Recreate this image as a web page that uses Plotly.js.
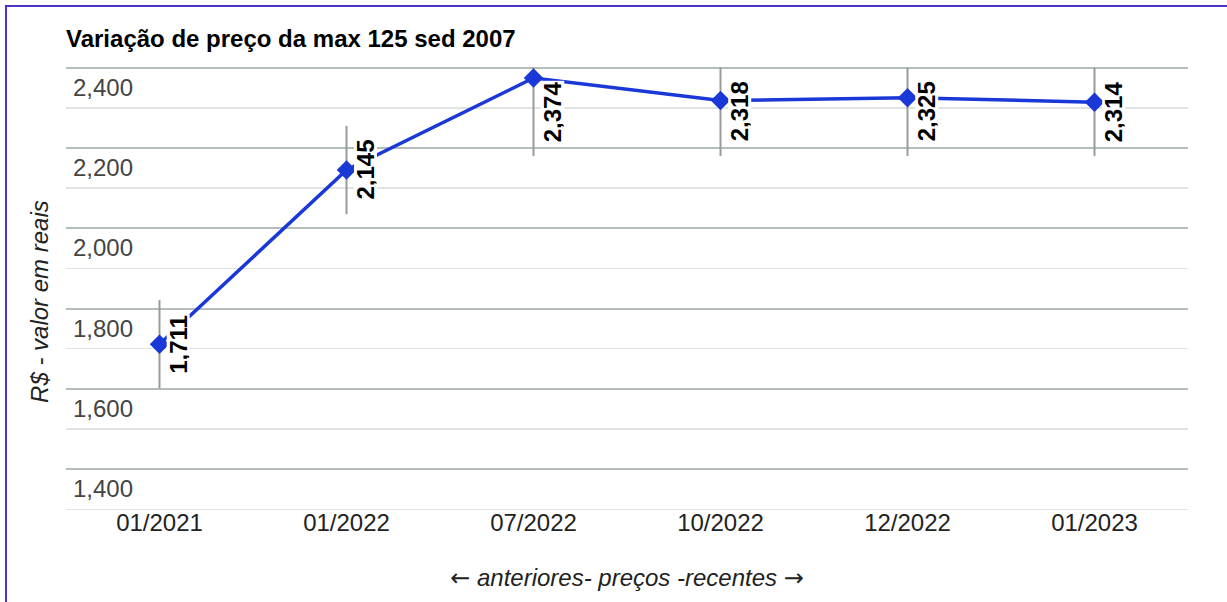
<!DOCTYPE html>
<html>
<head>
<meta charset="utf-8">
<script src="https://cdn.plot.ly/plotly-3.0.1.min.js"></script>
<style>
  html, body { margin: 0; padding: 0; background: #fff; overflow: hidden; }
  #wrap { position: relative; width: 1227px; height: 602px; }
  #chart { width: 1227px; height: 602px; }
  #frame { position: absolute; left: 5px; top: 5px; width: 1400px; height: 800px;
           border: 2px solid #4b33d2; pointer-events: none; box-sizing: border-box; }
</style>
</head>
<body>
<div id="wrap">
  <div id="chart"></div>
  <div id="frame"></div>
</div>
<script>
const categories = ["01/2021", "01/2022", "07/2022", "10/2022", "12/2022", "01/2023"];
const prices = [1711, 2145, 2374, 2318, 2325, 2314];
const yTickValues = [1400, 1600, 1800, 2000, 2200, 2400];
const yMinorValues = [1300, 1500, 1700, 1900, 2100, 2300];

const yMin = 1296, yMax = 2404;   // axis range (padded so edge gridlines show)
const clampTop = 2400;            // chart area top value
const stemHalf = 110;             // stem half-length in data units

const stemTop = prices.map(v => Math.min(v + stemHalf, clampTop));
const stemBottom = stemTop.map(t => t - 2 * stemHalf);

const font = '"Liberation Sans", Arial, sans-serif';

const trace = {
  x: categories,
  y: prices,
  type: 'scatter',
  mode: 'lines+markers',
  line: { color: '#1a38d8', width: 3.5 },
  marker: { symbol: 'diamond', size: 15, color: '#1a38d8' },
  error_y: {
    type: 'data', symmetric: false,
    array: prices.map((v, i) => stemTop[i] - v),
    arrayminus: prices.map((v, i) => v - stemBottom[i]),
    color: '#9a9a9a', thickness: 2, width: 0
  },
  hoverinfo: 'x+y',
  showlegend: false
};

const annotations = prices.map((v, i) => ({
  x: categories[i], y: (stemTop[i] + stemBottom[i]) / 2,
  xref: 'x', yref: 'y',
  text: v.toLocaleString('en-US'),
  showarrow: false, textangle: -90,
  xshift: 19, bgcolor: '#ffffff', borderpad: 0, height: 22,
  font: { family: font, size: 24, color: '#000', weight: 'bold' }
}));

annotations.push({
  xref: 'paper', yref: 'paper',
  x: (40 - 66) / 1122, y: (511.5 - 302) / 445.9,
  xanchor: 'center', yanchor: 'middle',
  text: 'R$ - valor em reais', showarrow: false, textangle: -90,
  font: { family: font, size: 24, color: '#222', style: 'italic' }
});

const arrowSpan = s => '<span style="font-family:\'DejaVu Sans\';font-style:normal">' + s + '</span>';

const layout = {
  width: 1227, height: 602,
  margin: { l: 66, r: 39, t: 65.6, b: 90.5 },
  paper_bgcolor: '#fff', plot_bgcolor: '#fff',
  font: { family: font, size: 24, color: '#444' },
  title: {
    text: '<b>Variação de preço da max 125 sed 2007</b>',
    xref: 'container', yref: 'container',
    x: 66 / 1227, xanchor: 'left', y: 1 - 38.5 / 602, yanchor: 'middle',
    font: { family: font, size: 24, color: '#000' }
  },
  xaxis: {
    type: 'category', range: [-0.5, 5.5],
    showgrid: false, zeroline: false, showline: false, ticks: '',
    tickfont: { family: font, size: 24, color: '#222' },
    ticklabelstandoff: -5,
    title: { text: arrowSpan('←') + ' anteriores- preços -recentes ' + arrowSpan('→'), standoff: 34,
             font: { family: font, size: 24, color: '#222', style: 'italic' } }
  },
  yaxis: {
    range: [yMin, yMax], tickvals: yTickValues, tickformat: ',d',
    ticklabelposition: 'inside bottom',
    ticklabelstandoff: 4, ticklabelshift: 3,
    showgrid: true, gridcolor: '#b4bdb9', gridwidth: 2,
    minor: { tickvals: yMinorValues, showgrid: true,
             gridcolor: '#dfe4e2', gridwidth: 1.5 },
    zeroline: false, showline: false, ticks: '',
    tickfont: { family: font, size: 24, color: '#444' }
  },
  annotations: annotations
};

Plotly.newPlot('chart', [trace], layout, { displayModeBar: false, staticPlot: true });
</script>
</body>
</html>
